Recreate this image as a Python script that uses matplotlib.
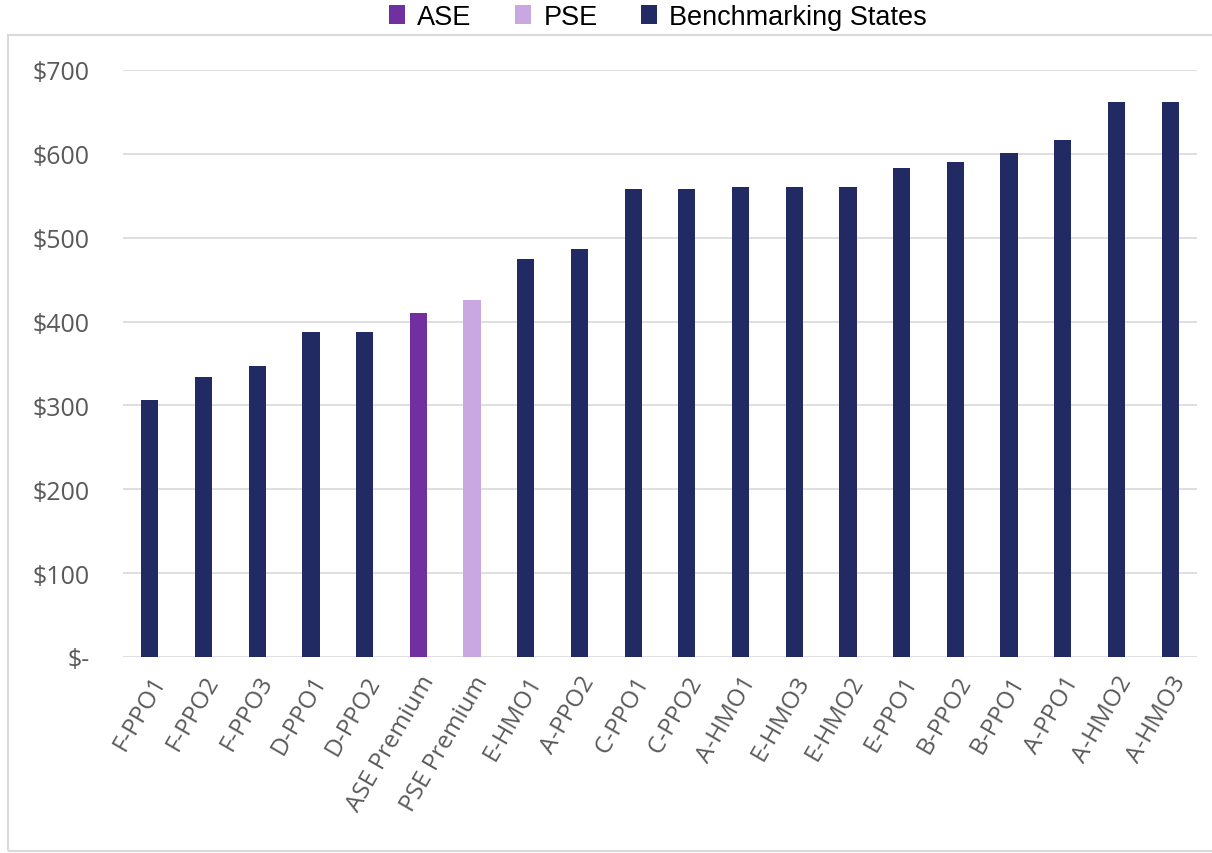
import matplotlib
matplotlib.use("Agg")
import matplotlib.pyplot as plt
from matplotlib.patches import Rectangle, Patch
from matplotlib.ticker import FuncFormatter

categories = ["F-PPO1", "F-PPO2", "F-PPO3", "D-PPO1", "D-PPO2",
              "ASE Premium", "PSE Premium", "E-HMO1", "A-PPO2", "C-PPO1",
              "C-PPO2", "A-HMO1", "E-HMO3", "E-HMO2", "E-PPO1",
              "B-PPO2", "B-PPO1", "A-PPO1", "A-HMO2", "A-HMO3"]
premiums = [306, 334, 347, 388, 388,
            410, 426, 475, 487, 558,
            558, 560, 560, 560, 583,
            590, 601, 616, 662, 662]
groups = ["Benchmarking States"] * 5 + ["ASE", "PSE"] + ["Benchmarking States"] * 13
legend_labels = ["ASE", "PSE", "Benchmarking States"]
y_ticks = [0, 100, 200, 300, 400, 500, 600, 700]

palette = {"ASE": "#7030A0", "PSE": "#C9A7E0", "Benchmarking States": "#222A63"}

W, H = 1212, 854
fig = plt.figure(figsize=(W / 100, H / 100), dpi=100)

# chart frame under the legend
fig.patches.append(Rectangle((8 / W, 1 - 852 / H), (1212 - 8) / W + 0.01, (852 - 36) / H,
                             transform=fig.transFigure, fill=False,
                             edgecolor="#D9D9D9", linewidth=1.5))

ax = fig.add_axes([123 / W, 1 - 658 / H, (1197 - 123) / W, (658 - 71) / H])
x = range(len(categories))
ax.bar(x, premiums, width=0.32, color=[palette[g] for g in groups], zorder=3)

ax.set_xlim(-0.5, len(categories) - 0.5)
ax.set_ylim(0, 700)
ax.set_yticks(y_ticks)
ax.yaxis.set_major_formatter(FuncFormatter(lambda v, _: "$-" if v == 0 else f"${v:.0f}"))
ax.grid(axis="y", color="#D9D9D9", linewidth=1.2, zorder=0)
for s in ax.spines.values():
    s.set_visible(False)
ax.tick_params(axis="both", length=0, colors="#595959", labelsize=18)
ax.tick_params(axis="y", pad=24)
ax.tick_params(axis="x", pad=10)
ax.set_xticks(list(x))
ax.set_xticklabels(categories, rotation=60, ha="right", rotation_mode="anchor",
                   family="Open Sans", color="#595959", fontsize=17.5)
for lab in ax.get_yticklabels():
    lab.set_family("Open Sans")

handles = [Patch(facecolor=palette[k], edgecolor="none") for k in legend_labels]
fig.legend(handles, legend_labels, loc="center", bbox_to_anchor=(658 / W, 1 - 18 / H),
           ncol=3, frameon=False, prop={"family": "Liberation Sans", "size": 19.5},
           handlelength=0.6, handleheight=0.7, handletextpad=0.45, columnspacing=1.6)

fig.savefig("out.png", dpi=100, facecolor="white")
